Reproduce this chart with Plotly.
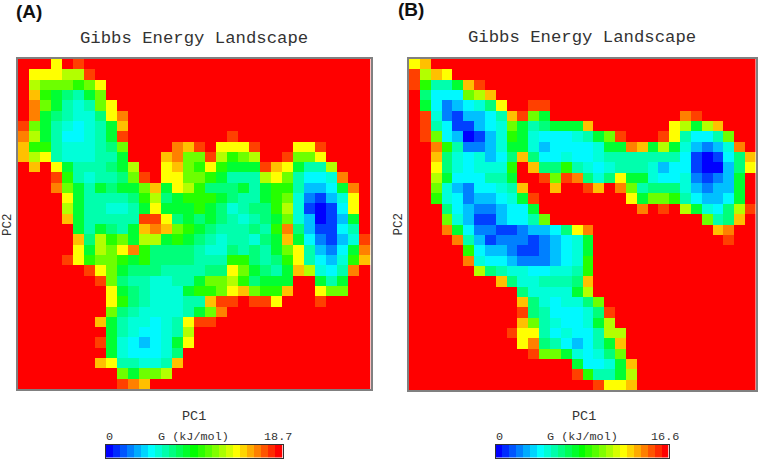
import plotly.graph_objects as go

# Level codes: 0 = deepest blue ... g = red (top of the scale)
LEVEL_CODES = "0123456789abcdefg"
# Position on the 0-16 colour ramp that each code stands for
LEVEL_VALUES = [0, 1, 2, 3, 3.9, 4.6, 5.3, 6.1, 7.2, 8.6, 9.7, 10.8, 12, 13, 14, 15, 16]
G_MAX_A = 18.7
G_MAX_B = 16.6
COLORBAR_STEPS = [0, 1, 2, 3, 4, 5, 6, 7, 8, 9, 10, 11, 12, 13, 14, 15, 16, 17, 18, 19, 20, 21, 22, 23, 24]

ROWS_A = [
    "gggcgf",
    "gcccbbf",
    "gbaaa9ac",
    "gd98768a",
    "gea8656ac",
    "ge876557ce",
    "fa8654568d",
    "eb8644568f" + "ggggggggg" + "f",
    "d99655567a" + "gggg" + "edfg" + "cccf" + "ggg" + "ccf",
    "dbc6555668" + "ggg" + "deaaf" + "b9ab" + "ggf" + "aac",
    "gdgc866678b" + "gg" + "cda9c" + "9888" + "fdc" + "866b",
    "gggf965667af" + "g" + "ccaa9" + "8666" + "bca" + "6445e",
    "ggg" + "ea868788ad" + "8cb977786" + "899" + "63348e",
    "gggg" + "c8666679b" + "789998766" + "89a" + "52135c",
    "gggg" + "b8665568c" + "888987567" + "79b" + "51014c",
    "gggg" + "d866666ff" + "c78787656" + "78a" + "530138",
    "ggggg" + "868768ded" + "a9876667" + "69e" + "731146",
    "ggggg" + "d7b9a8bb8" + "98765665" + "78d" + "842135f",
    "ggggg" + "c8bace977" + "77655767" + "68a" + "c63248e",
    "gggg" + "fc9aa98977" + "77666997" + "679" + "c64359d",
    "gggggg" + "fca87776" + "66677ca8" + "768" + "db546e",
    "ggggggg" + "fa76655" + "668aab97" + "888" + "gg" + "868",
    "gggggggg" + "c87655" + "5899acda" + "99d" + "gg" + "caa",
    "gggggggg" + "c97655" + "566dffgf" + "fcg" + "gg" + "f",
    "gggggggg" + "a76555" + "568ae",
    "ggggggg" + "d865545" + "6cff",
    "gggggggg" + "865445" + "6b",
    "ggggggg" + "f854345" + "8c",
    "gggggggg" + "854445" + "7",
    "ggggggg" + "dc66556" + "d",
    "ggggggggg" + "a8aab",
    "ggggggggg" + "fed",
]

ROWS_B = [
    "cd",
    "fbdc",
    "f9668df",
    "g7444abd",
    "g8423457c" + "gg" + "ff",
    "gf5213346dfa8" + "gggggggggggg" + "ef",
    "gf6411345a867888d" + "ggggggg" + "cb8bd",
    "gfa430135" + "985444568af" + "ggg" + "fc6446a",
    "gge9622358" + "8534444588" + "ed8b8" + "53235e",
    "ggd7545347" + "d7445445" + "6666666" + "410147d",
    "ggc7545559" + "gd779654" + "5666534" + "410037c",
    "ggb8444668" + "ggfafe75" + "7c88544" + "521238",
    "gga5324456" + "dggdggfd" + "gea6777" + "532338",
    "gg95423345" + "8f" + "gggggggg" + "c8aa9" + "643348",
    "ggg" + "74322344" + "8" + "ggggggggg" + "egfg" + "b8547bf",
    "ggg" + "a53113446a" + "gggggggggggggg" + "a67d",
    "ggg" + "e84221123347ce" + "ggggggggggg" + "de",
    "gggg" + "e631222123458" + "gggggggggggg" + "f",
    "ggggg" + "943321123458",
    "ggggg" + "e54432223459",
    "gggggg" + "b7655445569",
    "gggggggg" + "d7556667d",
    "gggggggggg" + "755558b",
    "gggggggggg" + "d754557a",
    "gggggggggg" + "f7644457f",
    "gggggggggg" + "da654458b",
    "ggggggggg" + "fcc645446bb",
    "gggggggggg" + "ce7643468d",
    "ggggggggggg" + "faa85457a",
    "ggggggggggggggg" + "84458d",
    "ggggggggggggggg" + "f9668b",
    "ggggggggggggggggg" + "fccd",
]

COLORS = ["#0000ff", "#0040ff", "#0080ff", "#00c0ff", "#00ffff", "#00ffc0", "#00ff80",
          "#00ff40", "#00ff00", "#40ff00", "#80ff00", "#c0ff00", "#ffff00", "#ffc000",
          "#ff8000", "#ff4000", "#ff0000"]
SCALE = [[i / 16, c] for i, c in enumerate(COLORS)]

W, H = 758, 460
MONO = "Liberation Mono"
TXT = "#333333"


def decode(rows, gmax):
    out = []
    for r in rows:
        r = r.ljust(32, "g")
        out.append([LEVEL_VALUES[LEVEL_CODES.index(ch)] / 16 * gmax for ch in r])
    return out


def dom_x(a, b):
    return [a / W, b / W]


def dom_y(top, bottom):
    return [1 - bottom / H, 1 - top / H]


fig = go.Figure()
panels = [
    (ROWS_A, G_MAX_A, (17.5, 370.5), (59, 389), (105.5, 282.5)),
    (ROWS_B, G_MAX_B, (409, 755.5), (59, 390), (495.5, 668.5)),
]
layout = {}
annots = []


def note(text, x, y, size=12, family=MONO, **kw):
    annots.append(dict(text=text, x=x / W, y=1 - y / H, xref="paper", yref="paper", showarrow=False,
                       xanchor="center", yanchor="middle",
                       font=dict(family=family, size=size, color=kw.pop("color", TXT)), **kw))


for idx, (rows, gmax, xr, yr, cb) in enumerate(panels):
    ax_a = str(2 * idx + 1) if idx else ""
    ax_b = str(2 * idx + 2)
    fig.add_trace(go.Heatmap(z=decode(rows, gmax), zmin=0, zmax=gmax, colorscale=SCALE, showscale=False,
                             xaxis="x" + ax_a, yaxis="y" + ax_a))
    fig.add_trace(go.Heatmap(z=[[s / 24 * gmax for s in COLORBAR_STEPS]], zmin=0, zmax=gmax, colorscale=SCALE,
                             showscale=False, xaxis="x" + ax_b, yaxis="y" + ax_b))
    layout["xaxis" + ax_a] = dict(domain=dom_x(*xr), anchor="y" + ax_a, showticklabels=False, ticks="",
                                  showgrid=False, zeroline=False, showline=True, linecolor="#808080",
                                  linewidth=1.5, mirror=True)
    layout["yaxis" + ax_a] = dict(domain=dom_y(*yr), anchor="x" + ax_a, showticklabels=False, ticks="",
                                  showgrid=False, zeroline=False, showline=True, linecolor="#808080",
                                  linewidth=1.5, mirror=True, autorange="reversed")
    layout["xaxis" + ax_b] = dict(domain=dom_x(*cb), anchor="y" + ax_b, showticklabels=False, ticks="",
                                  showgrid=False, zeroline=False, showline=True, linecolor="#333333",
                                  linewidth=1, mirror=True)
    layout["yaxis" + ax_b] = dict(domain=dom_y(445, 457.5), anchor="x" + ax_b, showticklabels=False, ticks="",
                                  showgrid=False, zeroline=False, showline=True, linecolor="#333333",
                                  linewidth=1, mirror=True)

note("<b>(A)</b>", 28.5, 12, size=19, family="Liberation Sans", color="#111111")
note("<b>(B)</b>", 411, 10, size=19, family="Liberation Sans", color="#111111")
note("Gibbs Energy Landscape", 194, 39, size=17.3)
note("Gibbs Energy Landscape", 582, 38, size=17.3)
note("PC1", 194, 416, size=13.5)
note("PC1", 584, 416, size=13.5)
note("PC2", 7.5, 224.5, size=12.5, textangle=-90)
note("PC2", 398, 224.5, size=12.5, textangle=-90)
note("0", 109, 437, size=11.8)
note("G (kJ/mol)", 193, 437, size=11.8)
note("18.7", 278, 437, size=11.8)
note("0", 499, 437, size=11.8)
note("G (kJ/mol)", 582, 437, size=11.8)
note("16.6", 665, 437, size=11.8)

fig.update_layout(width=W, height=H, autosize=False, margin=dict(l=0, r=0, t=0, b=0),
                  paper_bgcolor="white", plot_bgcolor="white", showlegend=False,
                  annotations=annots, **layout)
fig.write_html("out.html", config={"displayModeBar": False},
               post_script="document.body.style.margin='0';document.documentElement.style.overflow='hidden';")
